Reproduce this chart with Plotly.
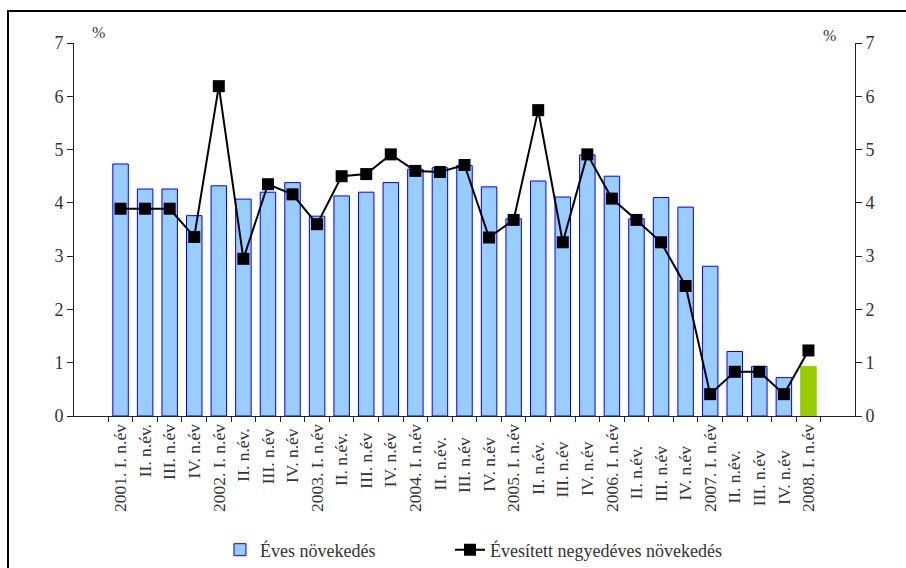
import plotly.graph_objects as go

categories = [
    "2001. I. n.év", "II. n.év.", "III. n.év", "IV. n.év",
    "2002. I. n.év", "II. n.év. ", "III. n.év ", "IV. n.év ",
    "2003. I. n.év", "II. n.év.  ", "III. n.év  ", "IV. n.év  ",
    "2004. I. n.év", "II. n.év.   ", "III. n.év   ", "IV. n.év   ",
    "2005. I. n.év", "II. n.év.    ", "III. n.év    ", "IV. n.év    ",
    "2006. I. n.év", "II. n.év.     ", "III. n.év     ", "IV. n.év     ",
    "2007. I. n.év", "II. n.év.      ", "III. n.év      ", "IV. n.év      ",
    "2008. I. n.év",
]

annual_growth = [4.73, 4.26, 4.26, 3.76, 4.32, 4.07, 4.20, 4.38,
                 3.75, 4.13, 4.20, 4.38, 4.63, 4.66, 4.70, 4.30,
                 3.70, 4.41, 4.11, 4.90, 4.50, 3.70, 4.10, 3.92,
                 2.81, 1.21, 0.93, 0.72, 0.93]

quarterly_annualized = [3.89, 3.89, 3.89, 3.36, 6.19, 2.95, 4.35, 4.16,
                        3.60, 4.50, 4.54, 4.91, 4.60, 4.58, 4.71, 3.35,
                        3.68, 5.74, 3.26, 4.91, 4.08, 3.68, 3.26, 2.44,
                        0.41, 0.83, 0.83, 0.41, 1.23]

bar_colors = ["#99ccff"] * 28 + ["#99cc00"]
bar_line_colors = ["#0000ff"] * 28 + ["#99cc00"]

FONT = "Liberation Serif, Times New Roman, DejaVu Serif, serif"
TXT = "#333333"

fig = go.Figure()
fig.add_trace(go.Bar(
    x=categories, y=annual_growth, name="Éves növekedés",
    marker=dict(color=bar_colors, line=dict(color=bar_line_colors, width=1)),
    yaxis="y", legend="legend",
))
fig.add_trace(go.Scatter(
    x=categories, y=quarterly_annualized, name="Évesített negyedéves növekedés",
    mode="lines+markers",
    line=dict(color="black", width=2),
    marker=dict(symbol="square", size=12, color="black"),
    yaxis="y2", legend="legend2",
))

fig.update_layout(
    width=906, height=568,
    margin=dict(l=74, r=51, t=43, b=152, autoexpand=False),
    paper_bgcolor="white", plot_bgcolor="white",
    font=dict(family=FONT, color=TXT, size=15),
    bargap=0.37,
    showlegend=True,
    legend=dict(orientation="h", xref="container", yref="container",
                x=0.2428, y=0.0317, xanchor="left", yanchor="middle",
                font=dict(size=18, family=FONT, color=TXT), bgcolor="rgba(0,0,0,0)"),
    legend2=dict(orientation="h", xref="container", yref="container",
                 x=0.4967, y=0.0317, xanchor="left", yanchor="middle",
                 font=dict(size=18, family=FONT, color=TXT), bgcolor="rgba(0,0,0,0)"),
    xaxis=dict(
        type="category", showline=True, linecolor="#222222", linewidth=1,
        ticks="outside", ticklen=5, tickcolor="#222222", tickson="boundaries",
        tickangle=-90, tickfont=dict(size=17.5, family=FONT, color=TXT),
        showgrid=False, zeroline=False, automargin=False,
    ),
    yaxis=dict(
        range=[0, 7], dtick=1, showline=True, linecolor="#222222", linewidth=1,
        ticks="outside", ticklen=6, tickcolor="#222222",
        tickfont=dict(size=18, family=FONT, color=TXT),
        showgrid=False, zeroline=False, automargin=False,
    ),
    yaxis2=dict(
        range=[0, 7], dtick=1, overlaying="y", side="right", showline=True,
        linecolor="#222222", linewidth=1, ticks="outside", ticklen=6, tickcolor="#222222",
        tickfont=dict(size=18, family=FONT, color=TXT),
        showgrid=False, zeroline=False, automargin=False,
    ),
    yaxis3=dict(
        range=[0, 7], dtick=1, overlaying="y", side="right", anchor="x",
        showline=False, ticks="inside", ticklen=6, tickcolor="#222222",
        showticklabels=False, showgrid=False, zeroline=False, automargin=False,
    ),
)

fig.add_annotation(text="%", xref="paper", yref="paper", x=0.032, y=1.027,
                   xanchor="center", yanchor="middle",
                   showarrow=False, font=dict(size=16, family=FONT, color=TXT))
fig.add_annotation(text="%", xref="paper", yref="paper", x=0.967, y=1.02,
                   xanchor="center", yanchor="middle",
                   showarrow=False, font=dict(size=16, family=FONT, color=TXT))

fig.add_shape(type="rect", xref="paper", yref="paper",
              x0=-0.0845, x1=1.08, y0=-0.45, y1=1.0858,
              line=dict(color="black", width=2), fillcolor="rgba(0,0,0,0)")

fig.write_html("out.html", config={"displayModeBar": False},
               post_script="document.body.style.margin='0';document.body.style.padding='0';")
